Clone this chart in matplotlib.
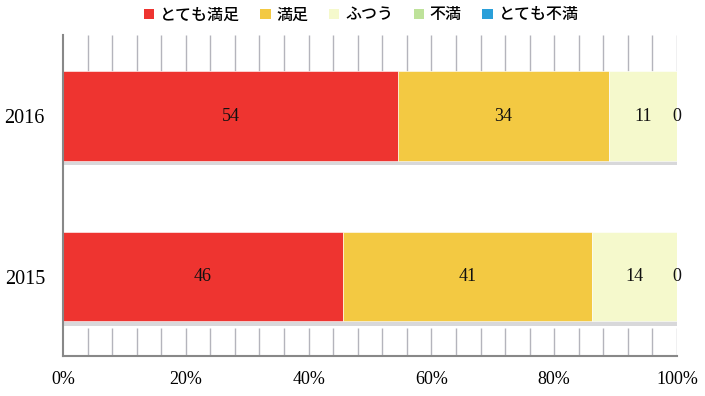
import numpy as np
import matplotlib.pyplot as plt
from matplotlib.patches import Patch

# data
years = ["2015", "2016"]
categories = ["とても満足", "満足", "ふつう", "不満", "とても不満"]
colors = ["#EE3430", "#F3C942", "#F5F9CC", "#BEE29A", "#2A9FD9"]
counts_2015 = [46, 41, 14, 0, 0]
counts_2016 = [54, 34, 11, 0, 0]
xticks = [0, 20, 40, 60, 80, 100]
xtick_labels = ["0%", "20%", "40%", "60%", "80%", "100%"]

serif = "Liberation Serif"
cjk = ["Noto Sans CJK JP", "DejaVu Sans"]

fig = plt.figure(figsize=(7.05, 3.96), dpi=100)
ax = fig.add_axes([63 / 705, 40 / 396, 614 / 705, 321 / 396])

ypos = [0, 1]
bar_h = 0.56
ylo, yhi = -0.495, 1.505
shadow_h = 0.028

# light grid every 4%, only outside the bar band
grid_x = np.arange(4, 101, 4)
ax.vlines(grid_x, 1 + bar_h / 2, yhi, color="#b4b4bc", lw=1.0, zorder=0)
ax.vlines(grid_x, ylo, -bar_h / 2 - 0.04, color="#b4b4bc", lw=1.0, zorder=0)

for y, counts in zip(ypos, [counts_2015, counts_2016]):
    vals = np.array(counts, dtype=float)
    pct = vals / vals.sum() * 100
    left = 0.0
    # shadow strip under the bar
    ax.barh(y - bar_h / 2 - shadow_h / 2, 100, height=shadow_h, left=0,
            color="#d8d8da", zorder=1)
    for i, (p, c) in enumerate(zip(pct, colors)):
        ax.barh(y, p, left=left, height=bar_h, color=c,
                edgecolor="#ffffff", linewidth=0.4, zorder=2)
        if counts[i] > 0 or i == 3:
            ax.text(left + p / 2, y, str(counts[i]), ha="center", va="center",
                    fontsize=13, family=serif, color="#111111", zorder=3)
        left += p

ax.set_xlim(0, 100)
ax.set_ylim(ylo, yhi)
ax.set_yticks(ypos)
ax.set_yticklabels(years, family=serif, fontsize=14.5)
ax.set_xticks(xticks)
ax.set_xticklabels(xtick_labels, family=serif, fontsize=13)
ax.tick_params(length=0, pad=11)
ax.tick_params(axis="y", pad=13)

for s in ["top", "right"]:
    ax.spines[s].set_visible(False)
ax.spines["left"].set_color("#888888")
ax.spines["bottom"].set_color("#888888")
ax.spines["left"].set_linewidth(1.5)
ax.spines["bottom"].set_linewidth(1.5)

handles = [Patch(facecolor=c, edgecolor="none", label=l) for c, l in zip(colors, categories)]
fig.legend(handles=handles, loc="center", bbox_to_anchor=(361 / 705, 1 - 15 / 396),
           ncol=5, frameon=False, prop={"family": cjk, "size": 11.5, "weight": "medium"},
           handlelength=0.65, handleheight=0.65, handletextpad=0.35,
           columnspacing=1.3, borderaxespad=0, borderpad=0)

fig.savefig("out.png", dpi=100)
